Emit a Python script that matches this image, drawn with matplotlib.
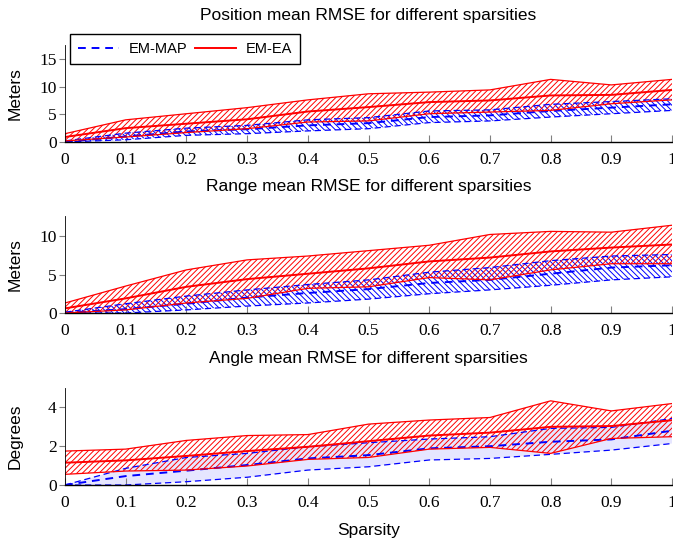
import numpy as np
import matplotlib.pyplot as plt

plt.rcParams["hatch.linewidth"] = 0.7

sparsity = [0.0, 0.1, 0.2, 0.3, 0.4, 0.5, 0.6, 0.7, 0.8, 0.9, 1.0]

# Position RMSE [m]
pos_ea_mean = [0.9, 2.5, 3.3, 4.1, 5.5, 6.3, 7.2, 7.5, 8.4, 8.5, 9.4]
pos_ea_up = [1.5, 4.0, 5.1, 6.2, 7.6, 8.7, 9.0, 9.4, 11.3, 10.3, 11.3]
pos_ea_lo = [0.2, 0.9, 1.7, 2.4, 3.6, 3.8, 5.1, 5.4, 5.7, 6.9, 7.6]
pos_map_mean = [0.0, 1.0, 1.9, 2.3, 3.0, 3.4, 4.5, 4.8, 5.6, 6.2, 6.8]
pos_map_up = [0.2, 1.6, 2.5, 3.0, 4.0, 4.4, 5.6, 5.8, 6.8, 7.3, 7.8]
pos_map_lo = [0.0, 0.4, 1.2, 1.5, 2.0, 2.4, 3.5, 3.8, 4.5, 5.1, 5.7]

# Range RMSE [m]
rng_ea_mean = [0.6, 1.9, 3.4, 4.4, 5.1, 5.8, 6.7, 7.2, 8.0, 8.5, 8.9]
rng_ea_up = [1.3, 3.5, 5.6, 6.9, 7.4, 8.1, 8.8, 10.2, 10.6, 10.5, 11.4]
rng_ea_lo = [0.0, 0.4, 1.3, 1.9, 3.2, 3.4, 4.6, 4.3, 5.6, 6.4, 6.4]
rng_map_mean = [0.0, 0.5, 1.2, 2.0, 2.6, 3.1, 3.9, 4.3, 5.1, 5.9, 6.2]
rng_map_up = [0.1, 1.2, 2.2, 3.0, 3.7, 4.3, 5.3, 5.9, 6.8, 7.4, 7.6]
rng_map_lo = [0.0, 0.0, 0.4, 0.9, 1.3, 1.8, 2.5, 3.0, 3.6, 4.3, 4.7]

# Angle RMSE [deg]
ang_ea_mean = [1.15, 1.27, 1.5, 1.75, 1.97, 2.26, 2.55, 2.7, 3.0, 3.04, 3.34]
ang_ea_up = [1.75, 1.85, 2.3, 2.55, 2.6, 3.14, 3.35, 3.48, 4.34, 3.82, 4.2]
ang_ea_lo = [0.55, 0.72, 0.77, 0.98, 1.32, 1.42, 1.85, 1.94, 1.63, 2.4, 2.49]
ang_map_mean = [0.0, 0.46, 0.74, 1.03, 1.37, 1.54, 1.89, 2.0, 2.23, 2.35, 2.8]
ang_map_up = [0.0, 0.86, 1.42, 1.63, 1.97, 2.18, 2.37, 2.49, 2.92, 2.97, 3.43]
ang_map_lo = [0.0, 0.0, 0.17, 0.4, 0.77, 0.94, 1.29, 1.37, 1.58, 1.8, 2.14]

xtick_labels = ["0", "0.1", "0.2", "0.3", "0.4", "0.5", "0.6", "0.7", "0.8", "0.9", "1"]

panels = [
    ("Position mean RMSE for different sparsities", "Meters", (0, 17.5), [0, 5, 10, 15],
     pos_map_mean, pos_map_up, pos_map_lo, pos_ea_mean, pos_ea_up, pos_ea_lo),
    ("Range mean RMSE for different sparsities", "Meters", (0, 12.6), [0, 5, 10],
     rng_map_mean, rng_map_up, rng_map_lo, rng_ea_mean, rng_ea_up, rng_ea_lo),
    ("Angle mean RMSE for different sparsities", "Degrees", (0, 5.0), [0, 2, 4],
     ang_map_mean, ang_map_up, ang_map_lo, ang_ea_mean, ang_ea_up, ang_ea_lo),
]

sans = "Liberation Sans"
serif = "Liberation Serif"

fig = plt.figure(figsize=(6.73, 5.43), dpi=100)
bottoms = [0.7385, 0.4236, 0.1068]
x = np.array(sparsity)

for k, (title, ylab, ylim, yticks, m_mean, m_up, m_lo, e_mean, e_up, e_lo) in enumerate(panels):
    ax = fig.add_axes([0.0966, bottoms[k], 0.902, 0.1786])
    if k < 2:
        ax.fill_between(x, m_lo, m_up, facecolor="none", edgecolor="blue",
                        hatch="\\\\\\\\\\\\", linewidth=0)
    else:
        ax.fill_between(x, m_lo, m_up, facecolor=(0.9, 0.9, 1.0), linewidth=0)
    ax.plot(x, m_up, color="blue", lw=0.9, ls=(0, (5, 3)))
    ax.plot(x, m_lo, color="blue", lw=0.9, ls=(0, (5, 3)))
    ax.plot(x, m_mean, color="blue", lw=1.4, ls=(0, (4, 3)), label="EM-MAP")

    ax.fill_between(x, e_lo, e_up, facecolor="none", edgecolor="red",
                    hatch="//////", linewidth=0)
    ax.plot(x, e_up, color="red", lw=0.9)
    ax.plot(x, e_lo, color="red", lw=0.9)
    ax.plot(x, e_mean, color="red", lw=1.4, label="EM-EA")

    ax.set_xlim(0, 1)
    ax.set_ylim(*ylim)
    ax.set_yticks(yticks)
    ax.set_xticks(sparsity)
    ax.set_xticklabels(xtick_labels)
    for lab in ax.get_xticklabels() + ax.get_yticklabels():
        lab.set_fontfamily(serif)
        lab.set_fontsize(12.5)
    ax.tick_params(axis="x", direction="in", length=5, color="gray", pad=7)
    ax.tick_params(axis="y", direction="out", length=4, color="gray", pad=2)
    ax.spines["top"].set_visible(False)
    ax.spines["right"].set_visible(False)
    ax.spines["bottom"].set_linewidth(1.0)
    ax.spines["left"].set_linewidth(0.6)
    ax.set_title(title, fontfamily=sans, fontsize=12.5, pad=18)
    ax.set_ylabel(ylab, fontfamily=sans, fontsize=12.5)
    ax.yaxis.set_label_coords(-0.07, 0.5)

    if k == 0:
        ax.legend(loc="upper left", bbox_to_anchor=(0.008, 1.113), ncol=2,
                  frameon=True, fancybox=False, edgecolor="black", framealpha=1,
                  prop={"family": sans, "size": 10.5}, handlelength=2.8,
                  columnspacing=0.5, borderpad=0.55, handletextpad=0.7,
                  borderaxespad=0)
    if k == 2:
        ax.set_xlabel("Sparsity", fontfamily=sans, fontsize=12.5, labelpad=9)

fig.savefig("out.png", dpi=100)
